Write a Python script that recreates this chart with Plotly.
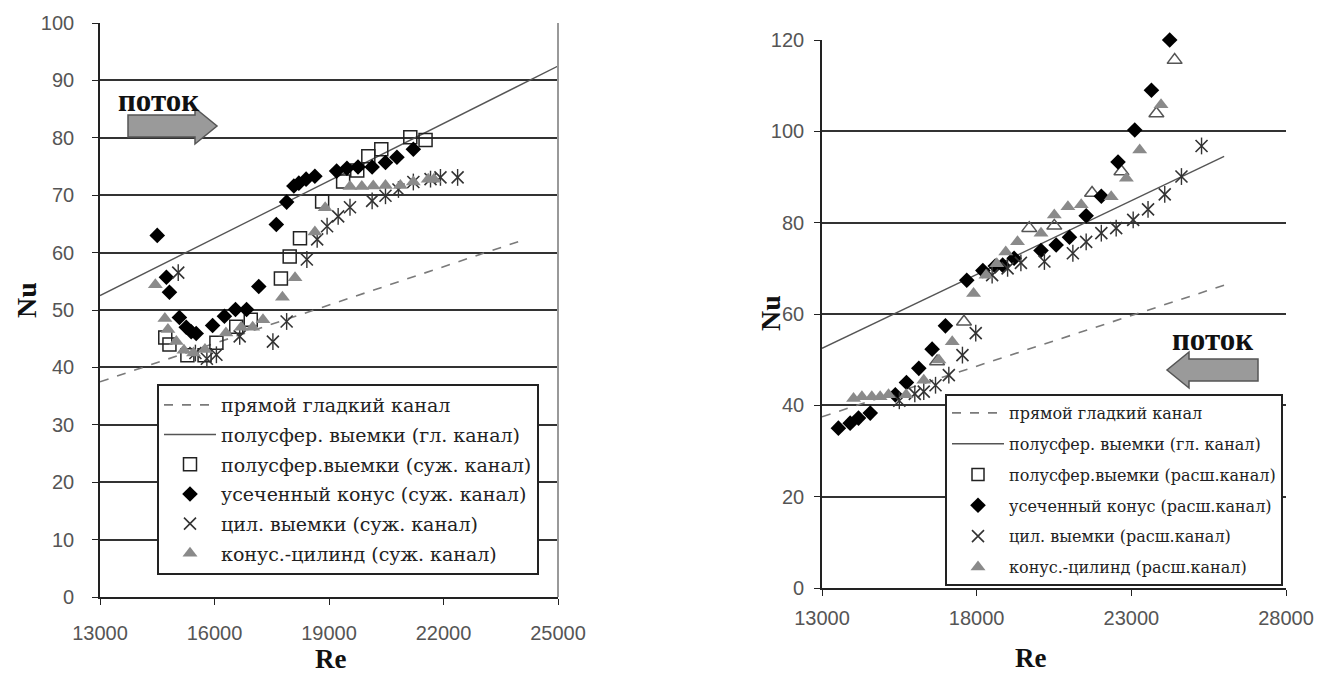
import plotly.graph_objects as go

W, H = 1341, 675

# ---------------- Left panel data (narrowing channel) ----------------
L_dash_re = [13000, 24000]
L_dash_nu = [37.5, 62.0]
L_line_re = [13000, 25000]
L_line_nu = [52.5, 92.5]

L_sq_re = [14710, 14820, 15290, 15740, 16050, 16570, 16950, 17740, 17970, 18240,
           18820, 19370, 19740, 20030, 20370, 21130, 21530]
L_sq_nu = [45.2, 44.0, 42.1, 42.1, 44.3, 47.1, 48.3, 55.5, 59.3, 62.5,
           68.9, 72.4, 74.3, 76.8, 78.0, 80.1, 79.6]

L_dia_re = [14500, 14740, 14820, 15080, 15260, 15390, 15520, 15950, 16260, 16550,
            16840, 17160, 17620, 17890, 18080, 18210, 18400, 18630, 19200, 19470,
            19760, 20130, 20480, 20780, 21210]
L_dia_nu = [63.0, 55.7, 53.1, 48.7, 47.0, 46.2, 45.9, 47.3, 48.9, 50.1,
            50.1, 54.1, 64.9, 68.8, 71.6, 72.1, 72.8, 73.3, 74.2, 74.7,
            74.9, 74.9, 75.7, 76.6, 78.0]

L_ast_re = [15050, 15500, 15800, 16050, 16660, 17530, 17890, 18420, 18690, 18950,
            19240, 19550, 20130, 20480, 20820, 21210, 21660, 21920, 22370]
L_ast_nu = [56.5, 42.5, 41.5, 42.2, 45.4, 44.5, 48.0, 58.8, 62.3, 64.6,
            66.3, 67.9, 69.0, 69.9, 71.0, 72.3, 72.8, 73.1, 73.1]

L_tri_re = [14450, 14700, 14780, 15000, 15200, 15450, 15750, 16300, 16700, 17000,
            17270, 17780, 18110, 18630, 18900, 19550, 19860, 20160, 20480, 20870,
            21210, 21600, 21750]
L_tri_nu = [54.4, 48.5, 46.6, 44.5, 43.0, 42.5, 43.1, 46.0, 47.0, 47.0,
            48.3, 52.2, 55.6, 63.6, 67.8, 71.5, 71.5, 71.6, 71.7, 71.7,
            72.3, 72.8, 72.8]

L_names = ["прямой гладкий канал", "полусфер. выемки (гл. канал)",
           "полусфер.выемки (суж. канал)", "усеченный конус (суж. канал)",
           "цил. выемки (суж. канал)", "конус.-цилинд (суж. канал)"]
L_xticks = [13000, 16000, 19000, 22000, 25000]
L_yticks = [0, 10, 20, 30, 40, 50, 60, 70, 80, 90, 100]

# ---------------- Right panel data (widening channel) ----------------
R_dash_re = [13000, 26000]
R_dash_nu = [37.5, 66.3]
R_line_re = [13000, 26000]
R_line_nu = [52.5, 94.5]

R_open_re = [16720, 17590, 19700, 20510, 21730, 22680, 23810, 24400]
R_open_nu = [49.6, 58.3, 78.8, 79.3, 86.5, 91.2, 103.9, 115.6]

R_dia_re = [13530, 13910, 14180, 14560, 15370, 15730, 16130, 16560, 16990, 17680,
            18200, 18600, 18840, 19210, 20080, 20570, 21000, 21540, 22030, 22570,
            23110, 23650, 24240]
R_dia_nu = [35.0, 36.1, 37.2, 38.3, 42.3, 45.0, 48.1, 52.3, 57.4, 67.4,
            69.5, 70.5, 70.7, 72.2, 73.9, 75.1, 76.8, 81.5, 85.8, 93.3,
            100.3, 109.0, 120.0]

R_ast_re = [15500, 16000, 16290, 16670, 17100, 17540, 17970, 18500, 19000, 19430,
            20190, 21110, 21540, 22030, 22510, 23060, 23540, 24080, 24620, 25270]
R_ast_nu = [41.0, 42.5, 43.0, 44.4, 46.6, 51.0, 55.8, 68.5, 70.0, 71.2,
            71.5, 73.3, 75.8, 77.7, 78.8, 80.6, 82.9, 86.2, 90.1, 96.8]

R_tri_re = [14020, 14290, 14610, 14880, 15150, 15720, 16290, 16780, 17210, 17900,
            18300, 18650, 18940, 19320, 20080, 20510, 20950, 21380, 22350, 22840,
            23270, 23960]
R_tri_nu = [41.5, 41.9, 41.9, 41.9, 42.3, 42.3, 45.5, 49.9, 53.9, 64.5,
            68.5, 71.0, 73.6, 75.8, 77.7, 81.7, 83.5, 83.9, 85.7, 89.7,
            95.9, 105.8]

R_names = ["прямой гладкий канал", "полусфер. выемки (гл. канал)",
           "полусфер.выемки (расш.канал)", "усеченный конус (расш.канал)",
           "цил. выемки (расш.канал)", "конус.-цилинд (расш.канал)"]
R_xticks = [13000, 18000, 23000, 28000]
R_yticks = [0, 20, 40, 60, 80, 100, 120]

# ---------------- styles ----------------
SERIF = "Liberation Serif"
LEG_SERIF = "DejaVu Serif"
SANS = "Liberation Sans"
GRAY_TRI = "#8a8a8a"

fig = go.Figure()


def add_panel(xa, ya, leg, names, dash, line, sq, sq_symbol, dia, ast, tri):
    g = [f"{leg}_{i}" for i in range(6)]
    fig.add_trace(go.Scatter(x=dash[0], y=dash[1], mode="lines", name=names[0],
                             legendgroup=g[0],
                             line=dict(color="#7a7a7a", width=1.6, dash="dash"),
                             xaxis=xa, yaxis=ya, legend=leg))
    fig.add_trace(go.Scatter(x=line[0], y=line[1], mode="lines", name=names[1],
                             legendgroup=g[1],
                             line=dict(color="#555555", width=1.4),
                             xaxis=xa, yaxis=ya, legend=leg))
    if sq_symbol == "square-open":
        fig.add_trace(go.Scatter(x=sq[0], y=sq[1], mode="markers", name=names[2],
                                 legendgroup=g[2],
                                 marker=dict(symbol="square-open", size=13, color="#222",
                                             line=dict(width=1.5)),
                                 cliponaxis=False,
                                 xaxis=xa, yaxis=ya, legend=leg))
    else:
        fig.add_trace(go.Scatter(x=sq[0], y=sq[1], mode="markers", name=names[2],
                                 showlegend=False, cliponaxis=False, legendgroup=g[2],
                                 marker=dict(symbol=sq_symbol, size=13, color="#555",
                                             line=dict(width=1.5)),
                                 xaxis=xa, yaxis=ya, legend=leg))
        fig.add_trace(go.Scatter(x=[None], y=[None], mode="markers", name=names[2],
                                 legendgroup=g[2],
                                 marker=dict(symbol="square-open", size=12, color="#222",
                                             line=dict(width=1.5)),
                                 xaxis=xa, yaxis=ya, legend=leg))
    fig.add_trace(go.Scatter(x=dia[0], y=dia[1], mode="markers", name=names[3],
                             legendgroup=g[3],
                             marker=dict(symbol="diamond", size=12, color="black"),
                             cliponaxis=False,
                             xaxis=xa, yaxis=ya, legend=leg))
    fig.add_trace(go.Scatter(x=ast[0], y=ast[1], mode="markers", name=names[4],
                             legendgroup=g[4],
                             marker=dict(symbol="x-thin-open", size=12, color="#333",
                                         line=dict(width=1.6, color="#333")),
                             xaxis=xa, yaxis=ya, legend=leg))
    fig.add_trace(go.Scatter(x=ast[0], y=ast[1], mode="markers", showlegend=False,
                             legendgroup=g[4],
                             marker=dict(symbol="line-ns-open", size=12, color="#333",
                                         line=dict(width=1.4, color="#333")),
                             xaxis=xa, yaxis=ya, legend=leg))
    fig.add_trace(go.Scatter(x=tri[0], y=tri[1], mode="markers", name=names[5],
                             legendgroup=g[5],
                             marker=dict(symbol="triangle-up", size=13, color=GRAY_TRI),
                             cliponaxis=False,
                             xaxis=xa, yaxis=ya, legend=leg))


add_panel("x", "y", "legend", L_names, (L_dash_re, L_dash_nu), (L_line_re, L_line_nu),
          (L_sq_re, L_sq_nu), "square-open", (L_dia_re, L_dia_nu),
          (L_ast_re, L_ast_nu), (L_tri_re, L_tri_nu))
add_panel("x2", "y2", "legend2", R_names, (R_dash_re, R_dash_nu), (R_line_re, R_line_nu),
          (R_open_re, R_open_nu), "triangle-up-open", (R_dia_re, R_dia_nu),
          (R_ast_re, R_ast_nu), (R_tri_re, R_tri_nu))


def px(x):
    return x / W


def py(y):
    return 1 - y / H


tickfont = dict(family=SANS, size=20, color="#555")
axis_common = dict(showline=True, linecolor="#222", linewidth=1.6, ticks="outside",
                   ticklen=6, tickcolor="#222", tickwidth=1.4, tickfont=tickfont,
                   zeroline=False, tickformat="d", automargin=False)

legend_common = dict(bgcolor="white", bordercolor="#222", borderwidth=2,
                     xanchor="left", yanchor="top", itemwidth=52,
                     groupclick="toggleitem")

fig.update_layout(
    template="none",
    width=W, height=H,
    margin=dict(l=0, r=0, t=0, b=0, autoexpand=False),
    paper_bgcolor="white", plot_bgcolor="white",
    xaxis=dict(domain=[px(100), px(558)], range=[13000, 25000], tickvals=L_xticks,
               showgrid=False, anchor="y", ticklabelstandoff=11, **axis_common),
    yaxis=dict(domain=[py(597), py(23)], range=[0, 100], tickvals=L_yticks,
               showgrid=True, gridcolor="#333", gridwidth=1.5, anchor="x",
               ticklabelstandoff=14, **axis_common),
    xaxis2=dict(domain=[px(822), px(1286)], range=[13000, 28000], tickvals=R_xticks,
                showgrid=False, anchor="y2", ticklabelstandoff=5, **axis_common),
    yaxis2=dict(domain=[py(588), py(40)], range=[0, 120], tickvals=R_yticks,
                showgrid=True, gridcolor="#333", gridwidth=1.5, anchor="x2",
                ticklabelstandoff=6, **axis_common),
    legend=dict(x=px(157), y=py(384), tracegroupgap=2,
                font=dict(family=LEG_SERIF, size=19, color="#222"), **legend_common),
    legend2=dict(x=px(945), y=py(394), tracegroupgap=7,
                 font=dict(family=LEG_SERIF, size=16, color="#222"), **legend_common),
    showlegend=True,
)

# right border of the left panel
fig.add_shape(type="line", xref="paper", yref="paper", x0=px(558), x1=px(558),
              y0=py(597), y1=py(23), line=dict(color="#999", width=2))


def arrow_path(tail_x, tip_x, yc, half_body, half_head, head_len):
    d = 1 if tip_x > tail_x else -1
    neck = tip_x - d * head_len
    pts = [(tail_x, yc - half_body), (neck, yc - half_body), (neck, yc - half_head),
           (tip_x, yc), (neck, yc + half_head), (neck, yc + half_body),
           (tail_x, yc + half_body)]
    s = "M " + " L ".join(f"{px(a):.5f},{py(b):.5f}" for a, b in pts) + " Z"
    return s


fig.add_shape(type="path", xref="paper", yref="paper",
              path=arrow_path(128, 217, 126, 11, 18, 22),
              fillcolor="#9a9a9a", line=dict(color="#555", width=1.5))
fig.add_shape(type="path", xref="paper", yref="paper",
              path=arrow_path(1258, 1167, 370, 11, 18, 22),
              fillcolor="#9a9a9a", line=dict(color="#555", width=1.5))

for txt, x, y, ang, sz in [("поток", 158, 100, 0, 31), ("поток", 1212, 339, 0, 31),
                           ("Re", 330, 659, 0, 27), ("Re", 1030, 658, 0, 27),
                           ("Nu", 26, 300, -90, 28), ("Nu", 770, 313, -90, 28)]:
    fig.add_annotation(text=f"<b>{txt}</b>", xref="paper", yref="paper",
                       x=px(x), y=py(y), showarrow=False, textangle=ang,
                       xanchor="center", yanchor="middle",
                       font=dict(family=SERIF, size=sz, color="#111"))

fig.write_html("out.html")
